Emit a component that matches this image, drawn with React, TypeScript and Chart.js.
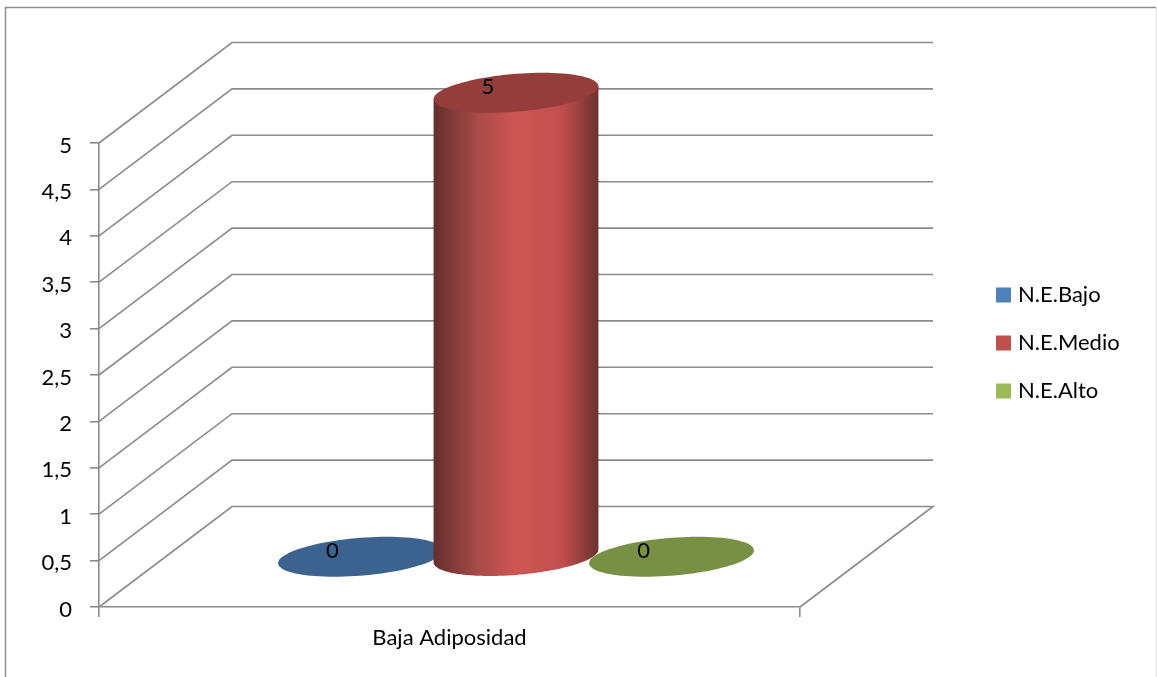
import React, { useEffect, useRef } from "react";
import { Chart, registerables } from "chart.js";

Chart.register(...registerables);

const categories = ["Baja Adiposidad"];
const seriesBajo = [0];
const seriesMedio = [5];
const seriesAlto = [0];
const seriesNames = ["N.E.Bajo", "N.E.Medio", "N.E.Alto"];
const faceColors = ["#4f81bd", "#c0504d", "#9bbb59"];
const capColors = ["#3c6290", "#943d3a", "#779044"];
const sideStops = [
  ["#5f2b29", "#3f6ba0", "#4f81bd", "#46739f", "#2f4f75"],
  ["#642e2c", "#a84b49", "#cd5654", "#bf504e", "#6e302e"],
  ["#4c5f2b", "#84a04b", "#9bbb59", "#8aa84e", "#566b30"],
];

const FONT = "Lato, 'Open Sans', sans-serif";
const GRID = "#8b8b8b";
const DEPTH_X = 133;
const DEPTH_Y = 100.5;
// Floor-plane radius of a cylinder, as a share of the chart's depth.
const RADIUS_DEPTH = 0.199;

type Pt = { x: number; y: number };

// Point on the sheared ellipse left by a circle lying on the floor plane.
function ellipsePoint(cx: number, cy: number, halfWidth: number, t: number): Pt {
  const shear = RADIUS_DEPTH * DEPTH_X;
  const r1 = Math.sqrt(Math.max(halfWidth * halfWidth - shear * shear, 1));
  return {
    x: cx + r1 * Math.cos(t) + shear * Math.sin(t),
    y: cy - RADIUS_DEPTH * DEPTH_Y * Math.sin(t),
  };
}

function traceEllipse(ctx: CanvasRenderingContext2D, cx: number, cy: number, hw: number) {
  ctx.beginPath();
  for (let i = 0; i <= 96; i++) {
    const p = ellipsePoint(cx, cy, hw, (i / 96) * Math.PI * 2);
    if (i === 0) ctx.moveTo(p.x, p.y);
    else ctx.lineTo(p.x, p.y);
  }
  ctx.closePath();
}

function drawCylinder(
  ctx: CanvasRenderingContext2D,
  bar: any,
  index: number,
) {
  const cx = bar.x + DEPTH_X / 2;
  const topY = bar.y - DEPTH_Y / 2;
  const baseY = bar.base - DEPTH_Y / 2;
  const hw = bar.width / 2;
  const shear = RADIUS_DEPTH * DEPTH_X;
  const r1 = Math.sqrt(hw * hw - shear * shear);
  const tRight = Math.atan2(shear, r1);

  if (baseY - topY > 0.5) {
    const g = ctx.createLinearGradient(cx - hw, 0, cx + hw, 0);
    sideStops[index].forEach((c, i) => g.addColorStop([0, 0.27, 0.5, 0.78, 1][i], c));
    ctx.beginPath();
    const start = ellipsePoint(cx, topY, hw, tRight + Math.PI);
    ctx.moveTo(start.x, start.y);
    for (let i = 0; i <= 64; i++) {
      const t = tRight + Math.PI + (i / 64) * Math.PI;
      const p = ellipsePoint(cx, baseY, hw, t);
      ctx.lineTo(p.x, p.y);
    }
    const end = ellipsePoint(cx, topY, hw, tRight);
    ctx.lineTo(end.x, end.y);
    ctx.closePath();
    ctx.fillStyle = g;
    ctx.fill();
  }
  traceEllipse(ctx, cx, topY, hw);
  ctx.fillStyle = capColors[index];
  ctx.fill();
}

const wallsPlugin = {
  id: "walls",
  beforeDraw(chart: any) {
    const { ctx, width, height } = chart;
    ctx.save();
    ctx.fillStyle = "#ffffff";
    ctx.fillRect(0, 0, width, height);
    // Chart frame: the bottom edge falls outside the canvas.
    ctx.strokeStyle = "#8e8e8e";
    ctx.lineWidth = 1.5;
    ctx.beginPath();
    ctx.moveTo(5.5, height);
    ctx.lineTo(5.5, 7.5);
    ctx.lineTo(width - 1, 7.5);
    ctx.stroke();
    ctx.strokeStyle = "#e2e2e2";
    ctx.beginPath();
    ctx.moveTo(width - 0.5, 8);
    ctx.lineTo(width - 0.5, height);
    ctx.stroke();
    ctx.restore();
  },
  beforeDatasetsDraw(chart: any) {
    const { ctx } = chart;
    const { x, y } = chart.scales;
    ctx.save();
    ctx.strokeStyle = GRID;
    ctx.lineWidth = 1.6;
    ctx.lineJoin = "miter";
    y.ticks.forEach((tick: any) => {
      const py = y.getPixelForValue(tick.value);
      ctx.beginPath();
      ctx.moveTo(x.left, py);
      ctx.lineTo(x.left + DEPTH_X, py - DEPTH_Y);
      ctx.lineTo(x.right + DEPTH_X, py - DEPTH_Y);
      if (tick.value === 0) ctx.lineTo(x.right, py);
      ctx.stroke();
    });
    ctx.restore();
  },
  // The cylinders replace the flat bars and are painted in series order.
  beforeDatasetDraw() {
    return false;
  },
  afterDatasetsDraw(chart: any) {
    const { ctx } = chart;
    ctx.save();
    chart.data.datasets.forEach((_: any, i: number) => {
      chart.getDatasetMeta(i).data.forEach((bar: any) => drawCylinder(ctx, bar, i));
    });
    ctx.fillStyle = "#000000";
    ctx.font = `22px ${FONT}`;
    ctx.textAlign = "center";
    ctx.textBaseline = "middle";
    chart.data.datasets.forEach((ds: any, i: number) => {
      chart.getDatasetMeta(i).data.forEach((bar: any, j: number) => {
        ctx.fillText(String(ds.data[j]), bar.x + 38.5, bar.y - 56);
      });
    });
    ctx.restore();
  },
  afterDraw(chart: any) {
    const { ctx } = chart;
    ctx.save();
    ctx.font = `22px ${FONT}`;
    ctx.textBaseline = "middle";
    ctx.textAlign = "left";
    chart.data.datasets.forEach((ds: any, i: number) => {
      const rowY = 295 + i * 48;
      ctx.fillStyle = ds.backgroundColor;
      ctx.fillRect(996, rowY - 7.5, 15, 15);
      ctx.fillStyle = "#000000";
      ctx.fillText(ds.label, 1018, rowY);
    });
    ctx.restore();
  },
};

export default function App() {
  const ref = useRef<HTMLCanvasElement>(null);
  useEffect(() => {
    if (!ref.current) return;
    const chart = new Chart(ref.current, {
      type: "bar",
      data: {
        labels: categories,
        datasets: [seriesBajo, seriesMedio, seriesAlto].map((data, i) => ({
          label: seriesNames[i],
          data,
          backgroundColor: faceColors[i],
        })),
      },
      options: {
        responsive: false,
        animation: false,
        layout: {
          autoPadding: false,
          padding: { left: 0, right: 357, top: 143, bottom: 0 },
        },
        datasets: { bar: { categoryPercentage: 0.6655, barPercentage: 1.06 } },
        scales: {
          x: {
            border: { display: true, color: GRID, width: 1.6 },
            grid: { drawOnChartArea: false, drawTicks: true, color: GRID, tickLength: 10, lineWidth: 1.6 },
            ticks: { color: "#000000", font: { family: FONT, size: 22 }, padding: 8, maxRotation: 0 },
            afterFit(scale: any) {
              scale.height = 70;
            },
          },
          y: {
            min: 0,
            max: 5,
            border: { display: true, color: GRID, width: 1.6 },
            grid: { drawOnChartArea: false, drawTicks: true, color: GRID, tickLength: 9, lineWidth: 1.6 },
            ticks: {
              stepSize: 0.5,
              color: "#000000",
              font: { family: FONT, size: 22 },
              padding: 18,
              labelOffset: 2.5,
              callback: (v: any) => String(v).replace(".", ","),
            },
            afterFit(scale: any) {
              scale.width = 99;
            },
          },
        },
        plugins: {
          legend: { display: false },
          tooltip: { enabled: false },
        },
      },
      plugins: [wallsPlugin],
    } as any);
    return () => chart.destroy();
  }, []);
  return (
    <canvas
      ref={ref}
      width={1157}
      height={677}
      style={{ position: "absolute", left: 0, top: 0, display: "block" }}
    />
  );
}
